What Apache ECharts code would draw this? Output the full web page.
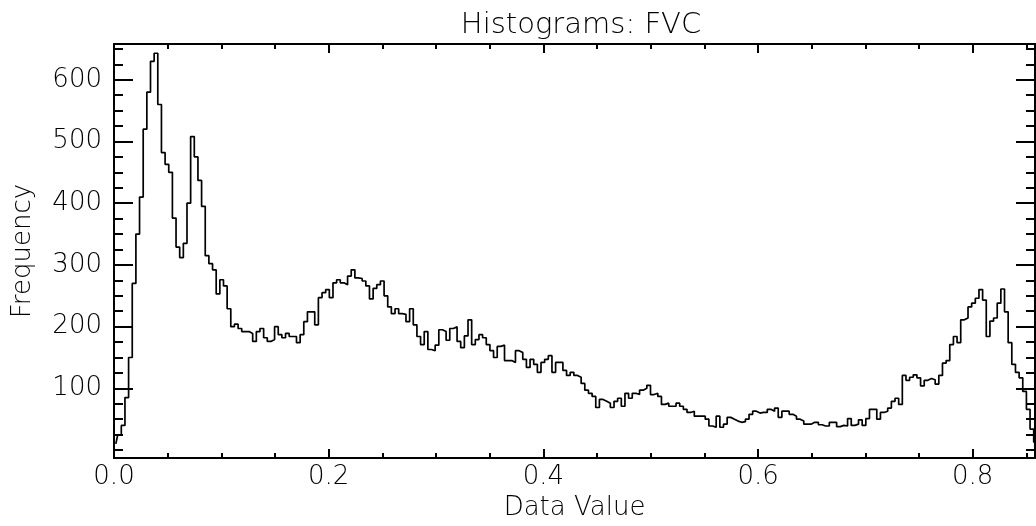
<!DOCTYPE html>
<html>
<head>
<meta charset="utf-8">
<title>Histograms: FVC</title>
<script src="https://cdn.jsdelivr.net/npm/echarts@6/dist/echarts.min.js"></script>
<style>
  html, body { margin: 0; padding: 0; background: #ffffff; }
  #chart { width: 1036px; height: 526px; }
</style>
</head>
<body>
<div id="chart"></div>
<script>
// FVC histogram: 253 bins of equal width starting at 0
const binWidth = 0.0034;
const frequency = [
  10, 24, 40, 85, 150, 270, 350, 410, 520, 580,
  630, 643, 560, 482, 463, 450, 376, 329, 312, 335,
  400, 508, 475, 437, 395, 315, 302, 292, 253, 276,
  266, 229, 200, 204, 197, 192, 192, 189, 176, 192,
  197, 182, 176, 179, 200, 187, 182, 189, 184, 184,
  174, 187, 208, 224, 224, 203, 247, 255, 260, 247,
  271, 276, 271, 268, 282, 292, 279, 278, 274, 266,
  245, 262, 268, 274, 250, 232, 221, 229, 221, 220,
  208, 229, 203, 184, 171, 192, 163, 161, 170, 195,
  192, 178, 197, 200, 176, 166, 185, 211, 171, 179,
  187, 182, 171, 161, 150, 168, 170, 145, 145, 142,
  161, 158, 147, 134, 147, 139, 126, 142, 147, 153,
  126, 142, 142, 129, 121, 126, 121, 118, 108, 97,
  92, 87, 69, 82, 79, 76, 69, 79, 84, 71,
  92, 84, 92, 90, 97, 100, 105, 90, 92, 87,
  74, 76, 71, 71, 76, 71, 66, 61, 63, 55,
  55, 55, 50, 39, 37, 55, 37, 42, 53, 50,
  47, 45, 46, 50, 58, 63, 60, 61, 61, 66,
  63, 68, 53, 63, 63, 58, 55, 50, 47, 42,
  42, 45, 45, 41, 39, 39, 45, 45, 38, 40,
  39, 51, 40, 42, 49, 40, 51, 66, 66, 50,
  61, 63, 68, 79, 84, 74, 121, 113, 118, 122,
  117, 104, 113, 116, 114, 107, 121, 141, 145, 171,
  184, 174, 211, 214, 232, 238, 246, 260, 243, 184,
  209, 214, 238, 261, 224, 174, 139, 126, 117, 95,
  66, 34, 13
];

// Axis ranges and tick positions
const xRange = [0, 0.858];
const yRange = [-13, 658];
const xMajorTicks = [0, 0.2, 0.4, 0.6, 0.8];
const xMinorTicks = [0.05, 0.1, 0.15, 0.25, 0.3, 0.35, 0.45, 0.5, 0.55, 0.65, 0.7, 0.75, 0.85];
const yMajorTicks = [100, 200, 300, 400, 500, 600];
const yMinorTicks = [0, 25, 50, 75, 125, 150, 175, 225, 250, 275, 325, 350, 375, 425, 450, 475, 525, 550, 575, 625, 650];

const titleText = 'Histograms: FVC';
const xName = 'Data Value';
const yName = 'Frequency';

// (bin centre, count) pairs for the stepped histogram line
const points = frequency.map((f, i) => [(i + 0.5) * binWidth, f]);

const ink = '#000000';
const fontFamily = 'DejaVu Sans';
const textStyle = { color: ink, fontFamily: fontFamily, fontSize: 26, fontWeight: 200 };

function xAxis(position, ticks, tickLen, withLabels) {
  return {
    type: 'value',
    position: position,
    min: xRange[0],
    max: xRange[1],
    axisLine: { show: withLabels !== null, onZero: false, lineStyle: { color: ink, width: 2 } },
    axisTick: { show: true, inside: true, length: tickLen, customValues: ticks, lineStyle: { color: ink, width: 2 } },
    axisLabel: withLabels ? Object.assign({ show: true, margin: 6, customValues: ticks,
      formatter: v => v.toFixed(1) }, textStyle) : { show: false },
    splitLine: { show: false },
    name: withLabels ? xName : '',
    nameLocation: 'middle',
    nameGap: 24,
    nameTextStyle: textStyle
  };
}

function yAxis(position, ticks, tickLen, withLabels) {
  return {
    type: 'value',
    position: position,
    min: yRange[0],
    max: yRange[1],
    axisLine: { show: withLabels !== null, onZero: false, lineStyle: { color: ink, width: 2 } },
    axisTick: { show: true, inside: true, length: tickLen, customValues: ticks, lineStyle: { color: ink, width: 2 } },
    axisLabel: withLabels ? Object.assign({ show: true, margin: 12, customValues: ticks }, textStyle) : { show: false },
    splitLine: { show: false },
    name: withLabels ? yName : '',
    nameLocation: 'middle',
    nameRotate: 90,
    nameGap: 78,
    nameTextStyle: textStyle
  };
}

const chart = echarts.init(document.getElementById('chart'), null, { renderer: 'canvas' });
chart.setOption({
  animation: false,
  backgroundColor: '#ffffff',
  title: {
    text: titleText,
    left: 576,
    top: 6,
    textAlign: 'center',
    textStyle: Object.assign({}, textStyle, { fontSize: 29 })
  },
  grid: { left: 114, right: 1, top: 44, bottom: 56 },
  xAxis: [
    xAxis('bottom', xMajorTicks, 9, true),
    xAxis('bottom', xMinorTicks, 5, null),
    xAxis('top', xMajorTicks, 9, false),
    xAxis('top', xMinorTicks, 5, null)
  ],
  yAxis: [
    yAxis('left', yMajorTicks, 19, true),
    yAxis('left', yMinorTicks, 9, null),
    yAxis('right', yMajorTicks, 19, false),
    yAxis('right', yMinorTicks, 9, null)
  ],
  series: [{
    type: 'line',
    xAxisIndex: 0,
    yAxisIndex: 0,
    step: 'middle',
    showSymbol: false,
    symbol: 'none',
    lineStyle: { color: ink, width: 1.7 },
    data: points
  }]
});
</script>
</body>
</html>
